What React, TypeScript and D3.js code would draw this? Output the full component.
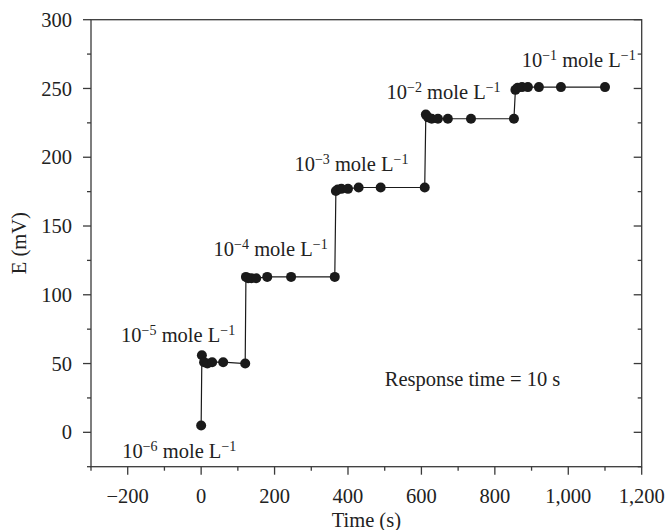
import React from 'react';
import * as d3 from 'd3';

const times = [0, 2, 8, 17, 30, 60, 120, 122, 128, 137, 150, 180, 245, 364, 367, 372, 382, 400, 429, 489, 609, 612, 618, 628, 645, 672, 735, 852, 856, 862, 874, 890, 920, 980, 1100];
const potentials = [5, 56, 51, 50, 51, 51, 50, 113, 112, 112, 112, 113, 113, 113, 175.5, 176.5, 177, 177, 178, 178, 178, 231, 229, 228, 228, 228, 228, 228, 249, 250.5, 251, 251, 251, 251, 251];
const xTicks = [-200, 0, 200, 400, 600, 800, 1000, 1200];
const xMinor = [-300, -100, 100, 300, 500, 700, 900, 1100];
const yTicks = [0, 50, 100, 150, 200, 250, 300];
const yMinor = [-25, 25, 75, 125, 175, 225, 275];
const concExponents = ['−6', '−5', '−4', '−3', '−2', '−1'];
const concLabelTimes = [-215, -218, 34, 254, 505, 873];
const concLabelValues = [-19, 66, 128, 190, 242, 265.6];
const responseText = 'Response time = 10 s';

const W = 666, H = 530;
const FONT = '"Liberation Serif", "Times New Roman", serif';

export default function App() {
  const x = d3.scaleLinear().domain([-300, 1200]).range([91, 641.7]);
  const y = d3.scaleLinear().domain([-25, 300]).range([466.7, 19.7]);
  const pts = times.map((t, i) => [t, potentials[i]] as [number, number]);
  const line = d3.line<[number, number]>().x(d => x(d[0])).y(d => y(d[1]));
  const fmt = d3.format(',');
  const axisColor = '#3a3a3a';
  const x0 = x(-300), x1 = x(1200), yb = y(-25), yt = y(300);
  const fs = 20.5;

  return (
    <svg width={W} height={H} style={{ position: 'absolute', left: 0, top: 0, fontFamily: FONT }}>
      <rect x={0} y={0} width={W} height={H} fill="#fff" />
      <rect x={x0} y={yt} width={x1 - x0} height={yb - yt} fill="none" stroke={axisColor} strokeWidth={1.3} />
      {yTicks.map(v => (
        <g key={'yl' + v}>
          <line x1={x0 - 8} x2={x0} y1={y(v)} y2={y(v)} stroke={axisColor} strokeWidth={1.3} />
          <line x1={x1 - 8} x2={x1} y1={y(v)} y2={y(v)} stroke={axisColor} strokeWidth={1.3} />
          <text x={72} y={y(v)} dy="0.35em" textAnchor="end" fontSize={fs} fill="#222">{fmt(v)}</text>
        </g>
      ))}
      {yMinor.map(v => (
        <g key={'ym' + v}>
          <line x1={x0 - 4} x2={x0} y1={y(v)} y2={y(v)} stroke={axisColor} strokeWidth={1.3} />
          <line x1={x1 - 4} x2={x1} y1={y(v)} y2={y(v)} stroke={axisColor} strokeWidth={1.3} />
        </g>
      ))}
      {xTicks.map(v => (
        <g key={'xt' + v}>
          <line x1={x(v)} x2={x(v)} y1={yb} y2={yb + 8} stroke={axisColor} strokeWidth={1.3} />
          <text x={x(v)} y={503} textAnchor="middle" fontSize={fs} fill="#222">{v < 0 ? '−' + fmt(-v) : fmt(v)}</text>
        </g>
      ))}
      {xMinor.map(v => (
        <line key={'xm' + v} x1={x(v)} x2={x(v)} y1={yb} y2={yb + 4} stroke={axisColor} strokeWidth={1.3} />
      ))}
      <text x={(x0 + x1) / 2} y={527} textAnchor="middle" fontSize={fs} fill="#222">Time (s)</text>
      <text transform={`translate(26,${(yt + yb) / 2}) rotate(-90)`} textAnchor="middle" fontSize={fs} fill="#222">E (mV)</text>
      <path d={line(pts) || ''} fill="none" stroke="#1a1a1a" strokeWidth={1.2} />
      {pts.map((p, i) => (
        <circle key={i} cx={x(p[0])} cy={y(p[1])} r={5} fill="#1a1a1a" />
      ))}
      {concExponents.map((e, i) => (
        <text key={'c' + i} x={x(concLabelTimes[i])} y={y(concLabelValues[i])} fontSize={fs} fill="#222">
          <tspan>10</tspan>
          <tspan dy={-7} fontSize={14}>{e}</tspan>
          <tspan dy={7}> mole L</tspan>
          <tspan dy={-7} fontSize={14}>−1</tspan>
        </text>
      ))}
      <text x={x(500)} y={y(34)} fontSize={fs} fill="#222">{responseText}</text>
    </svg>
  );
}
